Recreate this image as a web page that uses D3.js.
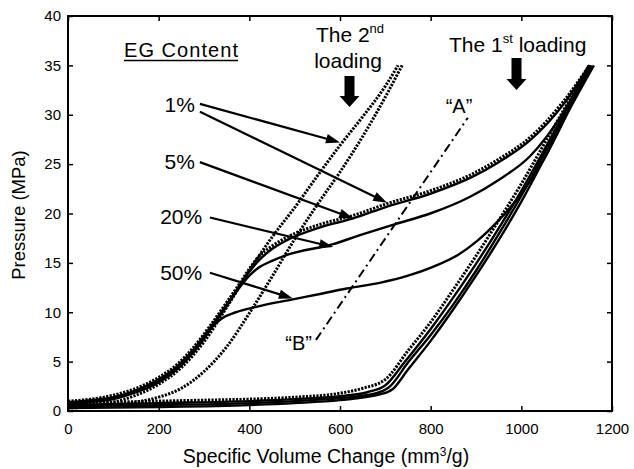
<!DOCTYPE html>
<html><head><meta charset="utf-8">
<script src="https://cdn.jsdelivr.net/npm/d3@7"></script>
<style>
html,body{margin:0;padding:0;background:#fff;}
svg{display:block;font-family:"Liberation Sans",Arial,Helvetica,sans-serif;}
</style></head>
<body>
<svg id="chart" width="634" height="469"></svg>
<script>
// ---- tick values ----
const xTicks = [0, 200, 400, 600, 800, 1000, 1200];
const yTicks = [0, 5, 10, 15, 20, 25, 30, 35, 40];

// ---- series: [specific volume change (mm3/g), pressure (MPa)] ----
// first loading
const load1pct = [[0,0.8],[100,0.9],[200,1.0],[300,1.1],[400,1.2],[500,1.4],[600,1.8],[650,2.3],[700,3.2],[750,6.1],[800,9.0],[850,12.3],[900,15.7],[950,19.3],[1000,23.0],[1050,27.0],[1100,31.0],[1150,35.0]];
const load5pct = [[0,0.6],[200,0.8],[400,1.0],[500,1.2],[600,1.5],[660,1.9],[700,2.6],[740,4.8],[800,8.3],[850,11.5],[900,14.9],[950,18.5],[1000,22.3],[1050,26.4],[1100,30.6],[1152,35.0]];
const load20pct = [[0,0.5],[200,0.6],[400,0.8],[500,1.0],[600,1.3],[680,1.8],[708,2.4],[750,4.9],[800,7.7],[850,10.8],[900,14.2],[950,17.9],[1000,21.8],[1050,26.0],[1100,30.3],[1155,35.0]];
const load50pct = [[0,0.3],[200,0.4],[400,0.6],[500,0.8],[600,1.1],[690,1.7],[716,2.2],[750,4.2],[800,7.1],[850,10.3],[900,13.7],[950,17.3],[1000,21.2],[1050,25.5],[1100,30.0],[1160,35.0]];
// unloading
const unload1pct = [[0,1.0],[50,1.2],[100,1.6],[150,2.3],[200,3.4],[240,4.7],[276,6.4],[313,8.6],[350,11.0],[380,13.0],[400,14.4],[420,15.6],[450,16.7],[483,17.6],[556,18.9],[629,19.8],[704,21.0],[799,22.3],[887,23.9],[950,25.5],[1019,27.7],[1092,31.3],[1150,35.0]];
const unload5pct = [[0,0.9],[50,1.1],[100,1.4],[150,2.1],[200,3.2],[240,4.5],[276,6.2],[313,8.4],[350,10.8],[380,12.8],[400,14.1],[420,15.2],[450,16.4],[483,17.3],[556,18.6],[629,19.5],[704,20.7],[799,22.0],[887,23.6],[950,25.2],[1019,27.4],[1092,31.0],[1150,35.0]];
const unload20pct = [[0,0.8],[50,1.0],[100,1.3],[150,2.0],[200,3.0],[240,4.3],[276,6.0],[313,8.2],[350,10.6],[380,12.6],[400,13.7],[420,14.5],[450,15.2],[483,15.8],[585,16.9],[644,17.8],[720,18.9],[799,20.0],[887,21.7],[950,23.4],[1019,25.8],[1092,30.2],[1150,35.0]];
const unload50pct = [[0,0.7],[50,0.9],[100,1.2],[150,1.9],[200,2.9],[240,4.2],[276,5.9],[300,7.3],[320,8.6],[340,9.4],[370,10.0],[420,10.6],[496,11.3],[550,11.8],[615,12.4],[690,13.0],[750,13.7],[805,14.6],[860,15.8],[902,17.2],[950,19.3],[1000,22.0],[1050,25.5],[1100,30.0],[1150,35.0]];
// second loading
const reloadA = [[0,0.5],[100,0.9],[150,1.6],[200,2.7],[250,4.4],[300,7.0],[350,10.5],[400,14.2],[450,17.6],[500,20.6],[550,23.8],[600,26.9],[650,29.8],[700,32.9],[728,35.0]];
const reloadB = [[0,0.3],[100,0.6],[150,0.9],[200,1.4],[250,2.3],[300,4.0],[350,6.5],[400,9.9],[450,13.6],[500,17.4],[550,20.9],[600,24.2],[650,27.8],[700,31.8],[737,35.0]];
// dash-dot line "B" -> "A"
const lineAB = [[547,7.2],[882,29.7]];

// ---- labels ----
const pctLabels = ["1%", "5%", "20%", "50%"];
const pctLabelPos = [[280,30.3],[280,24.5],[296,18.9],[296,13.3]];
const pctArrows = [
  {from:[291,31.1], to:[600,27.2]},
  {from:[291,30.3], to:[704,21.1]},
  {from:[291,25.2], to:[629,19.5]},
  {from:[313,19.6], to:[585,16.6]},
  {from:[313,14.0], to:[496,11.4]}
];

const svg = d3.select("#chart");
const x = d3.scaleLinear().domain([0,1200]).range([68,612]);
const y = d3.scaleLinear().domain([0,40]).range([411,16]);

const line = d3.line().x(d=>x(d[0])).y(d=>y(d[1])).curve(d3.curveMonotoneX);

svg.append("clipPath").attr("id","clip").append("rect")
  .attr("x",68).attr("y",16).attr("width",544).attr("height",395);

const g = svg.append("g").attr("clip-path","url(#clip)");

const solid = {w:2.4, dash:null};
const dotted = {w:3.0, dash:"2.2,1.3"};
const series = [
  [load50pct, solid],[load20pct, solid],[load5pct, solid],[load1pct, dotted],
  [unload50pct, solid],[unload20pct, solid],[unload5pct, solid],[unload1pct, dotted],
  [reloadB, dotted],[reloadA, dotted]
];
series.forEach(([d,s])=>{
  g.append("path").datum(d).attr("d",line)
    .attr("fill","none").attr("stroke","#000")
    .attr("stroke-width",s.w)
    .attr("stroke-dasharray",s.dash);
});

// dash-dot line
svg.append("path").datum(lineAB)
  .attr("d", d3.line().x(d=>x(d[0])).y(d=>y(d[1])))
  .attr("fill","none").attr("stroke","#000").attr("stroke-width",2)
  .attr("stroke-dasharray","9,4,2,4");

// axes
const fmt = d3.format("d");
const ax = svg.append("g");
ax.append("g").attr("transform","translate(0,411)")
  .call(d3.axisBottom(x).tickValues(xTicks).tickFormat(fmt).tickSizeInner(-5).tickSizeOuter(0).tickPadding(12));
ax.append("g").attr("transform","translate(68,0)")
  .call(d3.axisLeft(y).tickValues(yTicks).tickFormat(fmt).tickSizeInner(-5).tickSizeOuter(0).tickPadding(7));
ax.append("g").attr("transform","translate(0,16)")
  .call(d3.axisTop(x).tickValues(xTicks).tickSizeInner(-5).tickSizeOuter(0).tickFormat(""));
ax.append("g").attr("transform","translate(612,0)")
  .call(d3.axisRight(y).tickValues(yTicks).tickSizeInner(-5).tickSizeOuter(0).tickFormat(""));
ax.selectAll(".domain").remove();
ax.selectAll(".tick line").attr("stroke","#000").attr("stroke-width",1.5);
ax.selectAll("text").attr("font-size",15).attr("font-family","Liberation Sans, Arial, sans-serif").attr("fill","#000");
svg.append("rect").attr("x",68).attr("y",16).attr("width",544).attr("height",395)
  .attr("fill","none").attr("stroke","#000").attr("stroke-width",2);

// axis titles
const xt = svg.append("text").attr("x",326).attr("y",463).attr("text-anchor","middle")
  .attr("font-size",19.5);
xt.append("tspan").text("Specific Volume Change (mm");
xt.append("tspan").attr("dy",-7).attr("font-size",12).text("3");
xt.append("tspan").attr("dy",7).text("/g)");
svg.append("text").attr("transform","translate(25,215) rotate(-90)")
  .attr("text-anchor","middle").attr("font-size",18.5).text("Pressure (MPa)");

// EG Content
svg.append("text").attr("x",124).attr("y",57).attr("font-size",20).attr("textLength",114)
  .text("EG Content");
svg.append("line").attr("x1",124).attr("x2",238).attr("y1",60.5).attr("y2",60.5)
  .attr("stroke","#000").attr("stroke-width",1.3);

// percent labels
pctLabels.forEach((t,i)=>{
  svg.append("text").attr("x",x(pctLabelPos[i][0])).attr("y",y(pctLabelPos[i][1]))
    .attr("text-anchor","end").attr("font-size",21).text(t);
});

// thin arrows
function arrow(p0,p1){
  const x0=x(p0[0]), y0=y(p0[1]), x1=x(p1[0]), y1=y(p1[1]);
  const dx=x1-x0, dy=y1-y0, L=Math.hypot(dx,dy), ux=dx/L, uy=dy/L;
  const hl=14, hw=4.8;
  const bx=x1-ux*hl, by=y1-uy*hl;
  svg.append("line").attr("x1",x0).attr("y1",y0).attr("x2",bx+ux*2).attr("y2",by+uy*2)
    .attr("stroke","#000").attr("stroke-width",2.2);
  svg.append("path").attr("d",`M${x1},${y1}L${bx-uy*hw},${by+ux*hw}L${bx+uy*hw},${by-ux*hw}Z`)
    .attr("fill","#000");
}
pctArrows.forEach(a=>arrow(a.from,a.to));

// block arrows
function blockArrow(cx, y0, y1){
  const sw=5, hw=10, hh=11;
  svg.append("path").attr("d",
    `M${cx-sw},${y0}L${cx+sw},${y0}L${cx+sw},${y1-hh}L${cx+hw},${y1-hh}L${cx},${y1}L${cx-hw},${y1-hh}L${cx-sw},${y1-hh}Z`)
    .attr("fill","#000");
}
blockArrow(349.5, 76, 107);
blockArrow(516.5, 58, 90);

// loading titles
const t2 = svg.append("text").attr("x",350).attr("y",42).attr("text-anchor","middle").attr("font-size",21);
t2.append("tspan").text("The 2");
t2.append("tspan").attr("dy",-9).attr("font-size",13).text("nd");
svg.append("text").attr("x",348).attr("y",68).attr("text-anchor","middle").attr("font-size",21).text("loading");
const t1 = svg.append("text").attr("x",449).attr("y",52).attr("font-size",21);
t1.append("tspan").text("The 1");
t1.append("tspan").attr("dy",-9).attr("font-size",13).text("st");
t1.append("tspan").attr("dy",9).text(" loading");

// A / B labels
svg.append("text").attr("x",459).attr("y",113).attr("text-anchor","middle").attr("font-size",20).text("\u201CA\u201D");
svg.append("text").attr("x",312).attr("y",350).attr("text-anchor","end").attr("font-size",20).text("\u201CB\u201D");
</script>
</body></html>
